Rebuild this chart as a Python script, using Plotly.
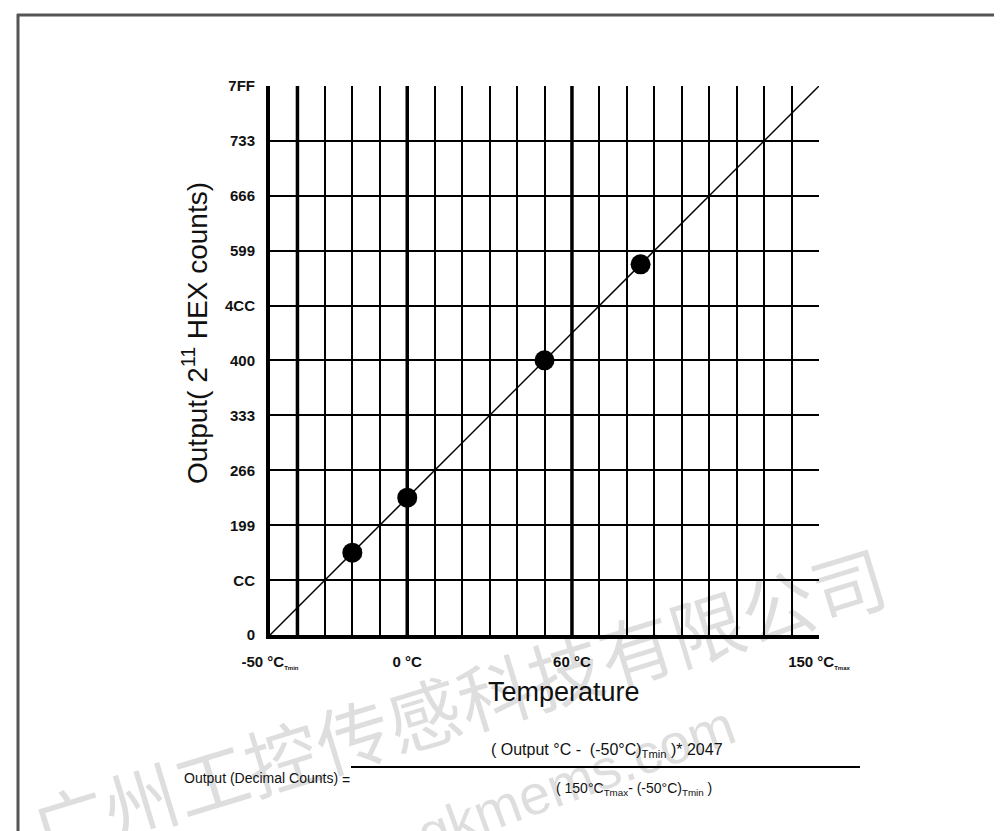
import plotly.graph_objects as go

# ---- data ----
temps_line = [-50, 150]
counts_line = [0, 2047]
point_temps = [-20, 0, 50, 85]
point_counts = [307, 512, 1024, 1382]

ytick_vals = [0, 204, 409, 614, 819, 1024, 1228, 1433, 1638, 1843, 2047]
ytick_text = ["0", "CC", "199", "266", "333", "400", "4CC", "599", "666", "733", "7FF"]

sub = "<sub><span style='font-size:6px'>{}</span></sub>"
xtick_vals = [-50, 0, 60, 150]
xtick_text = ["-50 °C" + sub.format("Tmin"), "0 °C", "60 °C", "150 °C" + sub.format("Tmax")]
thick_x = [-40, 0, 60]

# plot area in pixels
L, R, T, B = 262, 811, 78, 627
W, H = 1002, 831


def px(x):
    return (x - L) / (R - L)


def py(y):
    return (B - y) / (B - T)


fig = go.Figure()
fig.add_trace(go.Scatter(x=temps_line, y=counts_line, mode="lines",
                         line=dict(color="black", width=1.5), hoverinfo="skip"))
fig.add_trace(go.Scatter(x=point_temps, y=point_counts, mode="markers",
                         marker=dict(color="black", size=20)))

shapes = []
for xv in thick_x:
    shapes.append(dict(type="line", xref="x", yref="paper", x0=xv, x1=xv, y0=0, y1=1,
                       line=dict(color="black", width=3.5), layer="above"))
# frame of the figure
shapes.append(dict(type="line", xref="paper", yref="paper", x0=px(10), x1=px(10), y0=py(6), y1=py(832),
                   line=dict(color="#555", width=3)))
shapes.append(dict(type="line", xref="paper", yref="paper", x0=px(9), x1=px(1004), y0=py(7), y1=py(7),
                   line=dict(color="#555", width=3)))
shapes.append(dict(type="line", xref="paper", yref="paper", x0=px(9), x1=px(1004), y0=py(829), y1=py(829),
                   line=dict(color="#bbb", width=2)))
# fraction bar
shapes.append(dict(type="line", xref="paper", yref="paper", x0=px(343), x1=px(852), y0=py(759), y1=py(759),
                   line=dict(color="black", width=2)))

afont = "Liberation Sans, Arial, sans-serif"


def ann(text, x, y, size, **kw):
    d = dict(text=text, x=px(x), y=py(y), xref="paper", yref="paper", showarrow=False,
             xanchor="center", yanchor="middle",
             font=dict(size=size, family=afont, color="#111"))
    d.update(kw)
    return d


annotations = [
    # watermark (drawn first, below the other texts)
    ann("广州工控传感科技有限公司", 450, 692, 74, textangle=-17,
        font=dict(size=74, family="Noto Sans CJK SC", color="rgba(0,0,0,0.13)")),
    ann("www.gkmems.com", 505, 795, 56, textangle=-20,
        font=dict(size=56, family=afont, color="rgba(0,0,0,0.13)")),
    ann("Output( 2<sup>11</sup> HEX counts)", 187, 325, 28, textangle=-90),
    ann("Temperature", 556, 684, 27),
    ann("Output (Decimal Counts)", 332, 770, 14, xanchor="right"),
    ann("=", 338, 772, 14),
    ann("(\u00a0Output °C -\u00a0 (-50°C)<sub>Tmin</sub>\u00a0)* 2047", 599, 742, 16),
    ann("( 150°C<sub>Tmax</sub>- (-50°C)<sub>Tmin</sub> )", 626, 781, 14),
]

fig.update_layout(
    width=W, height=H, autosize=False,
    margin=dict(l=L, r=W - R, t=T, b=H - B),
    paper_bgcolor="white", plot_bgcolor="white",
    showlegend=False,
    shapes=shapes, annotations=annotations,
    xaxis=dict(range=[-50, 150], tickvals=xtick_vals, ticktext=xtick_text,
               showgrid=True, gridcolor="black", gridwidth=1.6,
               minor=dict(dtick=10, tick0=-50, showgrid=True, gridcolor="black", gridwidth=1.6),
               showline=True, linecolor="black", linewidth=4, zeroline=False,
               ticks="", ticklabelstandoff=10,
               tickfont=dict(size=15, family=afont, color="#111", weight="bold")),
    yaxis=dict(range=[0, 2047], tickvals=ytick_vals, ticktext=ytick_text,
               showgrid=True, gridcolor="black", gridwidth=1.6,
               showline=True, linecolor="black", linewidth=4, zeroline=False,
               ticks="", ticklabelstandoff=8,
               tickfont=dict(size=15, family=afont, color="#111", weight="bold")),
)

fig.write_html("out.html")
